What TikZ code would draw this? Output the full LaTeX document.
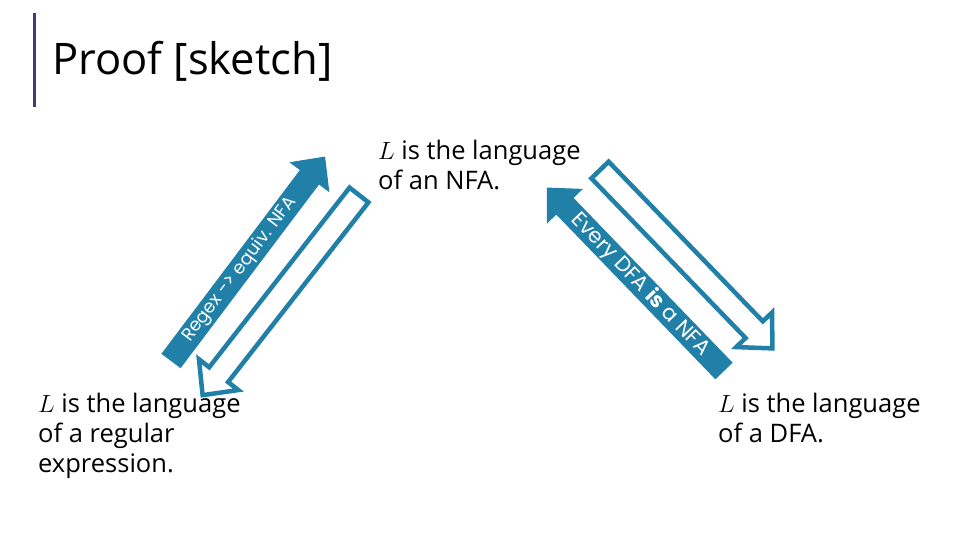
\documentclass[tikz,border=0pt]{standalone}
\usepackage{fontspec}
\setmainfont{Open Sans}
\newfontfamily\arrowfont{Poppins}
\definecolor{arrblue}{RGB}{32,128,168}
\definecolor{barpurple}{RGB}{75,55,115}
\tikzset{
  pics/barrow/.style={code={
    \path[pic actions] (0,-12) -- (#1-26,-12) -- (#1-26,-25) -- (#1,0)
      -- (#1-26,25) -- (#1-26,12) -- (0,12) -- cycle;}},
  filledarrow/.style={fill=arrblue},
  outlinearrow/.style={draw=arrblue, line width=4.5pt, fill=white, line join=miter},
  bodytext/.style={anchor=north west, inner sep=0pt, align=left,
    font=\fontsize{25.5}{30}\selectfont},
  arrowtext/.style={text=white, inner sep=0pt}
}
\begin{document}
\begin{tikzpicture}[x=1pt,y=1pt]
\useasboundingbox (0,0) rectangle (960,540);
% title bar and title
\fill[barpurple] (32.5,433) rectangle (35.5,527);
\node[anchor=base west, inner sep=0pt, font=\fontsize{43.5}{50}\selectfont] (title) at (52,465) {Proof [sketch]};
% texts
\node[bodytext] (nfa) at (378,400) {$L$ is the language\\of an NFA.};
\node[bodytext] (regex) at (38,147) {$L$ is the language\\of a regular\\expression.};
\node[bodytext] (dfa) at (718,147) {$L$ is the language\\of a DFA.};
% left pair of arrows
\pic[filledarrow, rotate=53] at (171,179) {barrow=256};
\pic[outlinearrow, rotate=232] at (359,345) {barrow=254};
\node[arrowtext, rotate=53, font=\arrowfont\fontsize{18}{20}\selectfont] (regexlbl) at (240,270.5) {Regex -> equiv. NFA};
% right pair of arrows
\pic[filledarrow, rotate=134] at (724,169) {barrow=255};
\pic[outlinearrow, rotate=-46] at (600,370) {barrow=248};
\node[arrowtext, rotate=-46, font=\arrowfont\fontsize{21}{22}\selectfont] (everylbl) at (640.6,255.3) {Every DFA \textbf{is} a NFA};
\end{tikzpicture}
\end{document}
